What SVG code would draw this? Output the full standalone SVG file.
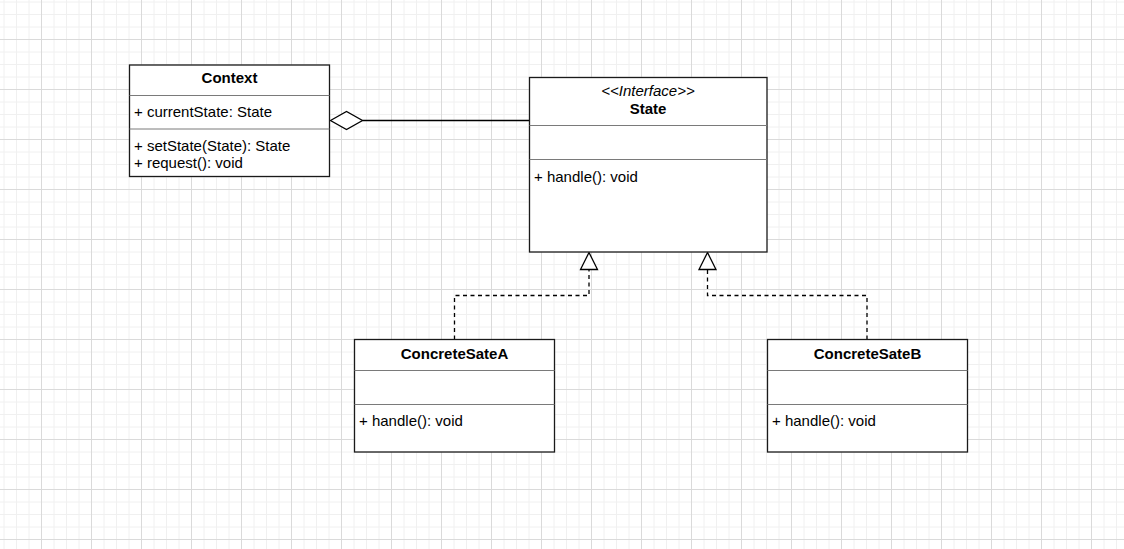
<svg xmlns="http://www.w3.org/2000/svg" width="1124" height="549" viewBox="0 0 1124 549">
  <defs>
    <pattern id="grid" x="0" y="0" width="50" height="50" patternUnits="userSpaceOnUse">
      <path d="M4 0V50M16.5 0V50M29 0V50M0 2H50M0 14.5H50M0 27H50" stroke="#f0f0f0" stroke-width="1" fill="none"/>
      <path d="M41.5 0V50M0 39.5H50" stroke="#dadada" stroke-width="1" fill="none"/>
    </pattern>
  </defs>
  <style>
    .box { fill: #ffffff; stroke: #1a1a1a; stroke-width: 1.3; }
    .div { stroke: #7a7a7a; stroke-width: 1; fill: none; }
    .t { font-family: "Liberation Sans", Arial, sans-serif; font-size: 15px; fill: #000000; }
    .b { font-weight: bold; text-anchor: middle; }
    .i { font-style: italic; text-anchor: middle; }
    .edge { stroke: #000000; stroke-width: 1.3; fill: none; }
    .dash { stroke: #000000; stroke-width: 1.3; fill: none; stroke-dasharray: 4 3.5; }
    .head { fill: #ffffff; stroke: #000000; stroke-width: 1.3; }
  </style>
  <rect x="0" y="0" width="1124" height="549" fill="#ffffff"/>
  <rect x="0" y="0" width="1124" height="549" fill="url(#grid)"/>

  <g id="connectors">
    <line class="edge" x1="362.5" y1="120.5" x2="529.5" y2="120.5"/>
    <polygon class="head" points="330.5,120.5 346.5,111.5 362.5,120.5 346.5,129.5"/>
    <polyline class="dash" points="454.5,339.5 454.5,295.5 589,295.5 589,269.5"/>
    <polygon class="head" points="589,252.5 580.5,269.5 597.5,269.5"/>
    <polyline class="dash" points="867,339.5 867,295.5 707.5,295.5 707.5,269.5"/>
    <polygon class="head" points="707.5,252.5 699,269.5 716,269.5"/>
  </g>

  <g id="context">
    <rect class="box" x="129.5" y="65" width="200" height="111.5"/>
    <line class="div" x1="129.5" y1="95.5" x2="329.5" y2="95.5"/>
    <line class="div" x1="129.5" y1="129" x2="329.5" y2="129"/>
    <text class="t b" x="229.5" y="83">Context</text>
    <text class="t" x="134" y="117">+ currentState: State</text>
    <text class="t" x="134" y="150.5">+ setState(State): State</text>
    <text class="t" x="134" y="168">+ request(): void</text>
  </g>

  <g id="state">
    <rect class="box" x="529.5" y="77.5" width="237.5" height="174.5"/>
    <line class="div" x1="529.5" y1="125.5" x2="767" y2="125.5"/>
    <line class="div" x1="529.5" y1="159.5" x2="767" y2="159.5"/>
    <text class="t i" x="648" y="96">&lt;&lt;Interface&gt;&gt;</text>
    <text class="t b" x="648" y="114">State</text>
    <text class="t" x="534" y="182">+ handle(): void</text>
  </g>

  <g id="concreteA">
    <rect class="box" x="354.5" y="339.5" width="200" height="112.5"/>
    <line class="div" x1="354.5" y1="370.5" x2="554.5" y2="370.5"/>
    <line class="div" x1="354.5" y1="404.5" x2="554.5" y2="404.5"/>
    <text class="t b" x="454.5" y="358.5">ConcreteSateA</text>
    <text class="t" x="359" y="426">+ handle(): void</text>
  </g>

  <g id="concreteB">
    <rect class="box" x="767.5" y="339.5" width="200" height="112.5"/>
    <line class="div" x1="767.5" y1="370.5" x2="967.5" y2="370.5"/>
    <line class="div" x1="767.5" y1="404.5" x2="967.5" y2="404.5"/>
    <text class="t b" x="867.5" y="358.5">ConcreteSateB</text>
    <text class="t" x="772" y="426">+ handle(): void</text>
  </g>
</svg>
